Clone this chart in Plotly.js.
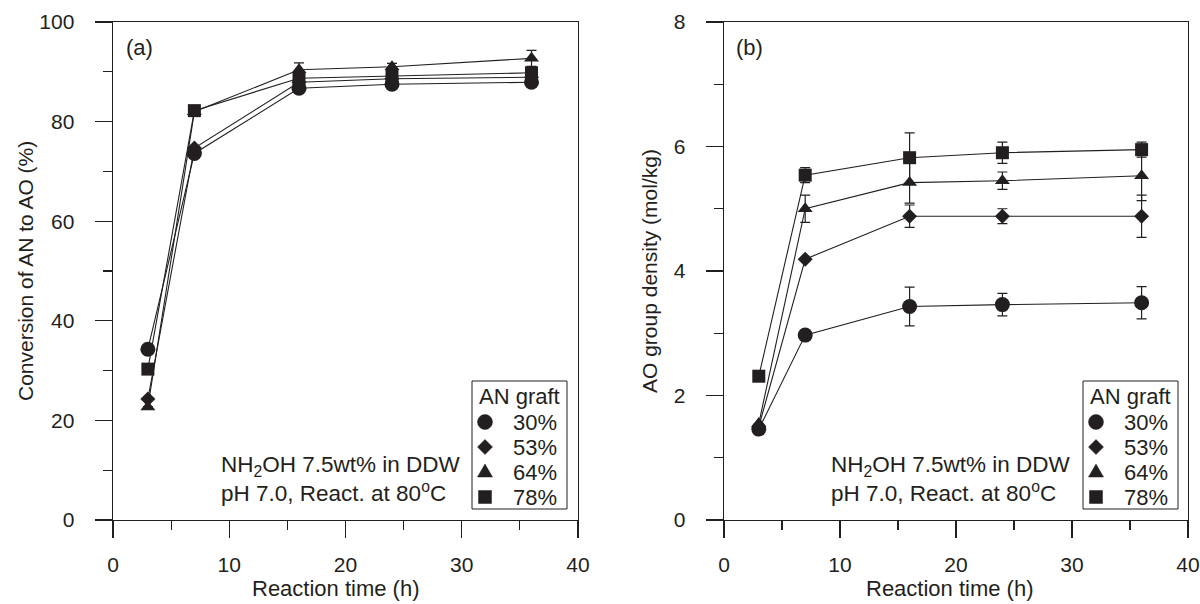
<!DOCTYPE html>
<html>
<head>
<meta charset="utf-8">
<script src="https://cdn.plot.ly/plotly-3.0.1.min.js"></script>
<style>
  html, body { margin: 0; padding: 0; background: #fff; }
  #chart { width: 1200px; height: 604px; }
</style>
</head>
<body>
<div id="chart"></div>
<script>
// Reaction time (h)
const reactionTime = [3, 7, 16, 24, 36];

// AN graft degree of each series
const graftLabels = ['30%', '53%', '64%', '78%'];

// (a) Conversion of AN to AO (%)
const conv30 = [34.3, 73.6, 86.7, 87.5, 87.9];
const conv53 = [24.3, 74.7, 87.9, 88.6, 88.9];
const conv64 = [22.7, 82.0, 90.4, 91.0, 92.7];
const conv78 = [30.3, 82.2, 88.7, 89.1, 89.8];
const convErr64 = [0, 0, 1.4, 0.7, 1.6];

// (b) AO group density (mol/kg)
const dens30 = [1.46, 2.97, 3.43, 3.46, 3.49];
const dens53 = [1.50, 4.19, 4.88, 4.88, 4.88];
const dens64 = [1.55, 5.00, 5.42, 5.45, 5.53];
const dens78 = [2.31, 5.54, 5.82, 5.90, 5.95];
const densErr30 = [0, 0, 0.31, 0.18, 0.26];
const densErr53 = [0, 0, 0.18, 0.12, 0.34];
const densErr64 = [0, 0.22, 0.33, 0.14, 0.40];
const densErr78 = [0, 0.12, 0.40, 0.17, 0.12];

const INK = '#231f20';
const FONT = '"Liberation Sans", Arial, sans-serif';
const symbols = ['circle', 'diamond', 'triangle-up', 'square'];
const sizes = [15, 11.5, 13, 13];

function series(x, y, err, i, xa, ya) {
  const t = {
    x: x, y: y, xaxis: xa, yaxis: ya,
    type: 'scatter', mode: 'lines+markers',
    name: graftLabels[i],
    line: { color: INK, width: 1.1 },
    marker: { symbol: symbols[i], size: sizes[i], color: INK },
    showlegend: false,
    cliponaxis: false
  };
  if (err) {
    t.error_y = { type: 'data', array: err, visible: true, color: INK, thickness: 1.2, width: 5 };
  }
  return t;
}

const convSets = [conv30, conv53, conv64, conv78];
const convErrs = [null, null, convErr64, null];
const densSets = [dens30, dens53, dens64, dens78];
const densErrs = [densErr30, densErr53, densErr64, densErr78];

const traces = [];
convSets.forEach((y, i) => traces.push(series(reactionTime, y, convErrs[i], i, 'x', 'y')));
densSets.forEach((y, i) => traces.push(series(reactionTime, y, densErrs[i], i, 'x2', 'y2')));

function xAxis(domain, anchor) {
  return {
    domain: domain, anchor: anchor, range: [0, 40],
    tick0: 0, dtick: 10, ticks: 'outside', ticklen: 17, tickwidth: 1.2, tickcolor: INK,
    minor: { dtick: 5, ticks: 'outside', ticklen: 9, tickwidth: 1.2, tickcolor: INK },
    showline: true, linecolor: INK, linewidth: 1.4, mirror: true,
    showgrid: false, zeroline: false, fixedrange: true,
    tickfont: { family: FONT, size: 21, color: INK },
    ticklabelstandoff: 8
  };
}
function yAxis(domain, anchor, max, step) {
  return {
    domain: domain, anchor: anchor, range: [0, max],
    tick0: 0, dtick: step, ticks: 'outside', ticklen: 17, tickwidth: 1.2, tickcolor: INK,
    minor: { dtick: step / 2, ticks: 'outside', ticklen: 9, tickwidth: 1.2, tickcolor: INK },
    showline: true, linecolor: INK, linewidth: 1.4, mirror: true,
    showgrid: false, zeroline: false, fixedrange: true,
    tickfont: { family: FONT, size: 21, color: INK },
    ticklabelstandoff: 16
  };
}

const W = 1200, H = 604;
const px = v => v / W;
const py = v => (H - v) / H;

const ann = (text, x, y, extra, size) => Object.assign({
  text: text, x: x, y: y, xref: 'paper', yref: 'paper', showarrow: false,
  font: { family: FONT, size: size || 21, color: INK }
}, extra || {});

// Legend key glyphs, sized in pixels around an anchor point
function keyShape(i, cx, cy) {
  const base = {
    xref: 'paper', yref: 'paper', xsizemode: 'pixel', ysizemode: 'pixel',
    xanchor: px(cx), yanchor: py(cy),
    fillcolor: INK, line: { color: INK, width: 0.5 }
  };
  if (symbols[i] === 'circle') return Object.assign(base, { type: 'circle', x0: -7.5, x1: 7.5, y0: -7.5, y1: 7.5 });
  if (symbols[i] === 'square') return Object.assign(base, { type: 'rect', x0: -6.5, x1: 6.5, y0: -6.5, y1: 6.5 });
  if (symbols[i] === 'diamond') return Object.assign(base, { type: 'path', path: 'M0,-7.5 L7.5,0 L0,7.5 L-7.5,0 Z' });
  return Object.assign(base, { type: 'path', path: 'M-7.5,-5 L7.5,-5 L0,8 Z' });
}

const shapes = [];
const annotations = [];

// Boxed legend placed by its left edge (page pixels)
function addLegend(left) {
  shapes.push({
    type: 'rect', xref: 'paper', yref: 'paper',
    x0: px(left), x1: px(left + 95), y0: py(509), y1: py(381),
    line: { color: INK, width: 1 }, fillcolor: 'rgba(0,0,0,0)'
  });
  annotations.push(ann('AN graft', px(left + 5), py(396), { xanchor: 'left', yanchor: 'middle' }, 22));
  graftLabels.forEach((lab, i) => {
    const cy = 422 + i * 25;
    shapes.push(keyShape(i, left + 13, cy));
    annotations.push(ann(lab, px(left + 39), py(cy), { xanchor: 'left', yanchor: 'middle' }, 22));
  });
}
addLegend(472);
addLegend(1083);

const noteText = 'NH<sub>2</sub>OH 7.5wt% in DDW<br>pH 7.0, React. at 80<sup>o</sup>C';
annotations.push(
  ann('(a)', px(124), py(48), { xanchor: 'left', yanchor: 'middle' }, 22),
  ann('(b)', px(734), py(48), { xanchor: 'left', yanchor: 'middle' }, 22),
  ann(noteText, px(219), py(479), { xanchor: 'left', yanchor: 'middle', align: 'left' }, 22.5),
  ann(noteText, px(829), py(479), { xanchor: 'left', yanchor: 'middle', align: 'left' }, 22.5),
  ann('Reaction time (h)', px(336), py(588), { xanchor: 'center', yanchor: 'middle' }, 22),
  ann('Reaction time (h)', px(950), py(588), { xanchor: 'center', yanchor: 'middle' }, 22),
  ann('Conversion of AN to AO (%)', px(25), py(271), { xanchor: 'center', yanchor: 'middle', textangle: -90 }, 21),
  ann('AO group density (mol/kg)', px(649), py(271), { xanchor: 'center', yanchor: 'middle', textangle: -90 }, 21)
);

const layout = {
  width: W, height: H,
  margin: { l: 0, r: 0, t: 0, b: 0 },
  paper_bgcolor: '#ffffff', plot_bgcolor: '#ffffff',
  showlegend: false,
  xaxis: xAxis([px(113), px(578)], 'y'),
  yaxis: yAxis([py(520), py(22)], 'x', 100, 20),
  xaxis2: xAxis([px(724), px(1188)], 'y2'),
  yaxis2: yAxis([py(520), py(22)], 'x2', 8, 2),
  shapes: shapes,
  annotations: annotations
};

Plotly.newPlot('chart', traces, layout, { staticPlot: true, displayModeBar: false });
</script>
</body>
</html>
